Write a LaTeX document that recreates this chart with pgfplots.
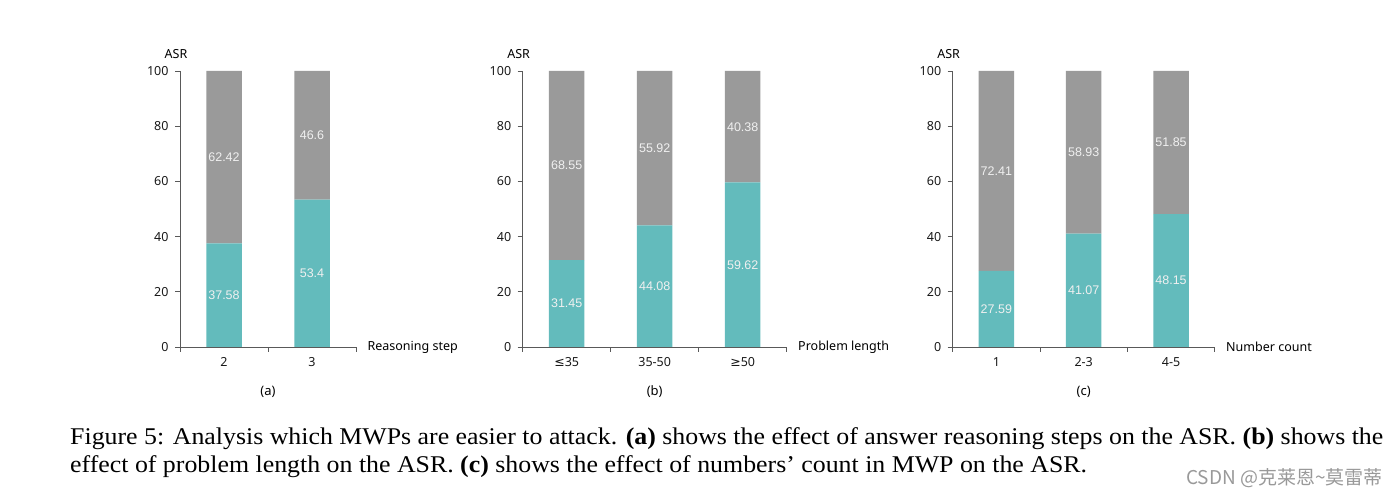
\documentclass[border=0pt]{standalone}
\usepackage{pgfplots}
\pgfplotsset{compat=1.18}
\usepackage{fontspec}
\setmainfont{Liberation Serif}
\newfontfamily\labfont{Noto Sans}
\newfontfamily\symfont{DejaVu Sans}
\newfontfamily\valfont{Liberation Sans}
\newfontfamily\cjkfont{Noto Sans CJK SC}

\definecolor{tealbar}{HTML}{63BBBC}
\definecolor{graybar}{HTML}{9A9A9A}
\definecolor{axisgray}{HTML}{595959}

\pgfplotsset{
  asrbars/.style={
    scale only axis,
    height=276pt,
    ymin=0, ymax=100,
    xmin=-0.5,
    ybar stacked,
    bar width=35.5pt,
    axis lines=left,
    axis line style={-, draw=axisgray, line width=0.8pt},
    tick align=outside,
    ytick={0,20,...,100},
    major tick length=5pt,
    minor tick length=5pt,
    major x tick style={draw=none},
    minor x tick style={draw=axisgray, line width=0.8pt},
    major y tick style={draw=axisgray, line width=0.8pt},
    tick label style={font=\labfont\fontsize{12.5}{14}\selectfont, text=black!90},
    yticklabel style={xshift=-3pt},
    xticklabel style={yshift=-2pt},
    /pgf/number format/assume math mode=true,
    ylabel={ASR},
    every axis y label/.style={at={(rel axis cs:0,1)}, anchor=center,
      xshift=-4pt, yshift=17pt, font=\labfont\fontsize{12.5}{14}\selectfont},
    every axis x label/.style={at={(rel axis cs:1,0)}, anchor=west,
      xshift=8pt, font=\labfont\fontsize{12.5}{14}\selectfont},
    every axis title/.style={at={(rel axis cs:0.5,0)}, anchor=center,
      yshift=-45pt, font=\labfont\fontsize{13}{15}\selectfont},
    point meta=rawy,
    nodes near coords,
    /pgf/number format/fixed,
    /pgf/number format/precision=2,
    every node near coord/.append style={font=\valfont\fontsize{12.5}{14}\selectfont,
      text=white!94!black, anchor=center},
  },
}

\begin{document}
\begin{tikzpicture}[x=1pt,y=1pt]
\useasboundingbox (0,0) rectangle (1400,500);

% (a) reasoning steps
\begin{axis}[asrbars, at={(180pt,153pt)}, anchor=south west,
  width=176pt, xmax=1.5,
  xtick={0,1}, xticklabels={2,3}, minor xtick={-0.5,0.5,1.5},
  xlabel={Reasoning step}, title={(a)}]
\addplot[fill=tealbar, draw=none] coordinates {(0,37.58) (1,53.4)};
\addplot[fill=graybar, draw=none] coordinates {(0,62.42) (1,46.6)};
\end{axis}

% (b) problem length
\begin{axis}[asrbars, at={(522.7pt,153pt)}, anchor=south west,
  width=264pt, xmax=2.5,
  xtick={0,1,2}, xticklabels={{\symfont ≤}35,35-50,{\symfont ≥}50},
  minor xtick={-0.5,0.5,1.5,2.5},
  xlabel={Problem length}, title={(b)}]
\addplot[fill=tealbar, draw=none] coordinates {(0,31.45) (1,44.08) (2,59.62)};
\addplot[fill=graybar, draw=none] coordinates {(0,68.55) (1,55.92) (2,40.38)};
\end{axis}

% (c) number count
\begin{axis}[asrbars, at={(952.7pt,153pt)}, anchor=south west,
  width=262pt, xmax=2.5,
  xtick={0,1,2}, xticklabels={1,2-3,4-5}, minor xtick={-0.5,0.5,1.5,2.5},
  xlabel={Number count}, title={(c)}]
\addplot[fill=tealbar, draw=none] coordinates {(0,27.59) (1,41.07) (2,48.15)};
\addplot[fill=graybar, draw=none] coordinates {(0,72.41) (1,58.93) (2,51.85)};
\end{axis}

\node[anchor=base west, inner sep=0pt, font=\fontsize{24}{28}\selectfont] at (70,55)
  {\scalebox{1.077}[1]{Figure 5: Analysis which MWPs are easier to attack. \textbf{(a)} shows the effect of answer reasoning steps on the ASR. \textbf{(b)} shows the}};
\node[anchor=base west, inner sep=0pt, font=\fontsize{24}{28}\selectfont] at (70,27)
  {\scalebox{1.077}[1]{effect of problem length on the ASR. \textbf{(c)} shows the effect of numbers’ count in MWP on the ASR.}};
\node[anchor=east, inner sep=0pt, text=black!40, font=\cjkfont\fontsize{19}{21}\selectfont] at (1383,22)
  {CSDN @克莱恩\textasciitilde 莫雷蒂};
\end{tikzpicture}
\end{document}
